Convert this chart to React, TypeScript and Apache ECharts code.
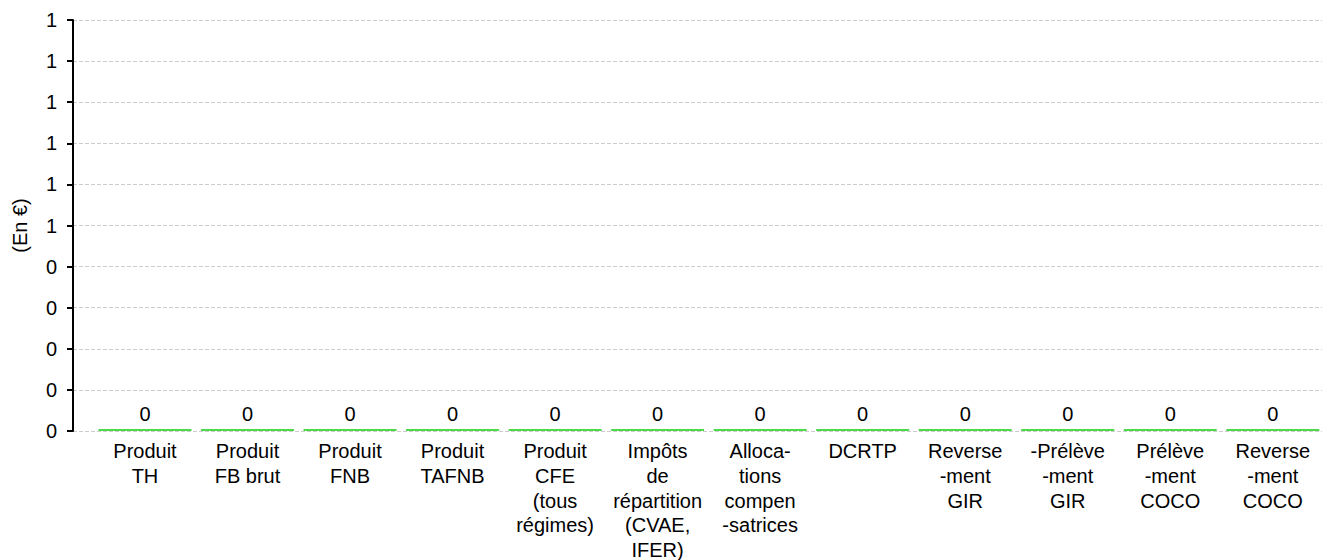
import React, { useEffect, useRef } from "react";
import * as echarts from "echarts";

const categories = [
  "Produit\nTH",
  "Produit\nFB brut",
  "Produit\nFNB",
  "Produit\nTAFNB",
  "Produit\nCFE\n(tous\nrégimes)",
  "Impôts\nde\nrépartition\n(CVAE,\nIFER)",
  "Alloca-\ntions\ncompen\n-satrices",
  "DCRTP",
  "Reverse\n-ment\nGIR",
  "-Prélève\n-ment\nGIR",
  "Prélève\n-ment\nCOCO",
  "Reverse\n-ment\nCOCO",
];
const values = [0, 0, 0, 0, 0, 0, 0, 0, 0, 0, 0, 0];
const yAxisName = "(En €)";

export default function App() {
  const ref = useRef<HTMLDivElement>(null);
  useEffect(() => {
    if (!ref.current) return;
    const chart = echarts.init(ref.current, null, { renderer: "svg" });
    const font = "'Liberation Sans', Arial, sans-serif";
    chart.setOption({
      animation: false,
      grid: { left: 73, right: 0, top: 20, bottom: 129, outerBoundsMode: "none", containLabel: false },
      xAxis: {
        type: "value",
        min: -0.702,
        max: 11.48,
        axisLine: { show: false },
        axisTick: { show: false },
        splitLine: { show: false },
        axisLabel: {
          customValues: categories.map((_, i) => i),
          formatter: (v: number) => categories[Math.round(v)] ?? "",
          color: "#000",
          fontSize: 20,
          fontFamily: font,
          lineHeight: 24.7,
          margin: 8,
          align: "center",
          verticalAlign: "top",
        },
      },
      yAxis: {
        type: "value",
        min: 0,
        max: 1,
        interval: 0.1,
        name: yAxisName,
        nameLocation: "middle",
        nameGap: 43,
        nameRotate: 90,
        nameTextStyle: { color: "#000", fontSize: 20, fontFamily: font },
        axisLine: { show: true, onZero: false, lineStyle: { color: "#000", width: 2 } },
        axisTick: { show: true, length: 6, lineStyle: { color: "#000", width: 2 } },
        axisLabel: {
          formatter: (v: number) => String(Math.round(v)),
          color: "#000",
          fontSize: 20,
          fontFamily: font,
          margin: 16,
        },
        splitLine: { show: true, lineStyle: { color: "#ccc", type: "dashed", width: 1 } },
      },
      series: [
        {
          type: "bar",
          data: values.map((v, i) => [i, v]),
          barWidth: 93,
          barMinHeight: 2,
          itemStyle: { color: "#4cd94c" },
          label: {
            show: true,
            position: "top",
            distance: 5,
            color: "#000",
            fontSize: 20,
            fontFamily: font,
            formatter: (p: any) => String(Math.round(p.value[1])),
          },
        },
      ],
    });
    return () => chart.dispose();
  }, []);
  return (
    <div
      ref={ref}
      style={{ position: "absolute", left: 0, top: 0, width: 1322, height: 560 }}
    />
  );
}
